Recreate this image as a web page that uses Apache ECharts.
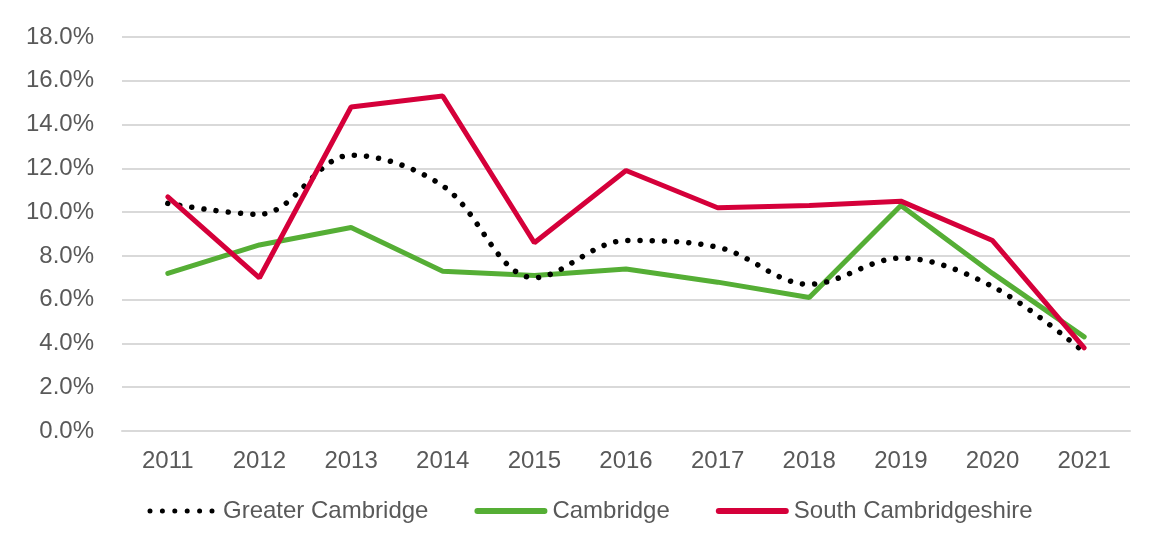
<!DOCTYPE html>
<html>
<head>
<meta charset="utf-8">
<script src="https://cdn.jsdelivr.net/npm/echarts@6/dist/echarts.min.js"></script>
<style>
  html, body { margin: 0; padding: 0; background: #fff; }
  #chart { width: 1159px; height: 544px; }
</style>
</head>
<body>
<div id="chart"></div>
<script>
var years = ["2011", "2012", "2013", "2014", "2015", "2016", "2017", "2018", "2019", "2020", "2021"];
var greaterCambridge = [10.4, 9.9, 12.6, 11.2, 7.0, 8.7, 8.4, 6.7, 7.9, 6.6, 3.6];
var cambridge = [7.2, 8.5, 9.3, 7.3, 7.1, 7.4, 6.8, 6.1, 10.3, 7.2, 4.3];
var southCambs = [10.7, 7.0, 14.8, 15.3, 8.6, 11.9, 10.2, 10.3, 10.5, 8.7, 3.8];

var textColor = "#595959";
var font = "'Liberation Sans', Arial, sans-serif";

// legend icons, 73 x 6 box
var barIcon = "path://M3,0 L70,0 A3,3 0 0 1 70,6 L3,6 A3,3 0 0 1 3,0 Z";
var dotIcon = "path://M0,0 M73,6";
for (var i = 0; i < 6; i++) {
  var cx = 5 + i * 12.4;
  dotIcon += " M" + (cx - 2.5) + ",3 A2.5,2.5 0 1 0 " + (cx + 2.5) + ",3 A2.5,2.5 0 1 0 " + (cx - 2.5) + ",3 Z";
}

var myChart = echarts.init(document.getElementById("chart"));

myChart.setOption({
  animation: false,
  grid: {
    left: 122,
    right: 29,
    top: 37,
    bottom: 113,
  },
  legend: {
    left: 140,
    top: 494,
    itemWidth: 73,
    itemHeight: 6,
    itemGap: 46,
    textStyle: {
      color: textColor,
      fontSize: 24,
      fontFamily: font,
    },
    data: [
      { name: "Greater Cambridge", icon: dotIcon, itemStyle: { color: "#000" } },
      { name: "Cambridge", icon: barIcon, itemStyle: { color: "#55ae35" } },
      { name: "South Cambridgeshire", icon: barIcon, itemStyle: { color: "#d5003a" } },
    ],
  },
  xAxis: {
    type: "category",
    boundaryGap: true,
    data: years,
    axisLine: { lineStyle: { color: "#d9d9d9", width: 2 } },
    axisTick: { show: false },
    axisLabel: {
      color: textColor,
      fontSize: 24,
      fontFamily: font,
      margin: 18,
    },
  },
  yAxis: {
    type: "value",
    min: 0,
    max: 18,
    interval: 2,
    axisLine: { show: false },
    axisTick: { show: false },
    splitLine: { lineStyle: { color: "#d9d9d9", width: 2 } },
    axisLabel: {
      color: textColor,
      fontSize: 24,
      fontFamily: font,
      margin: 28,
      formatter: function (v) {
        return v.toFixed(1) + "%";
      },
    },
  },
  series: [
    {
      name: "Greater Cambridge",
      type: "line",
      data: greaterCambridge,
      smooth: 0.35,
      symbol: "none",
      z: 3,
      itemStyle: { color: "#000" },
      lineStyle: {
        color: "#000",
        width: 5.5,
        type: [0.01, 12.2],
        cap: "round",
      },
    },
    {
      name: "Cambridge",
      type: "line",
      data: cambridge,
      symbol: "none",
      z: 2,
      itemStyle: { color: "#55ae35" },
      lineStyle: { color: "#55ae35", width: 5, cap: "round" },
    },
    {
      name: "South Cambridgeshire",
      type: "line",
      data: southCambs,
      symbol: "none",
      z: 4,
      itemStyle: { color: "#d5003a" },
      lineStyle: { color: "#d5003a", width: 5, cap: "round" },
    },
  ],
});

window.addEventListener("resize", function () {
  myChart.resize();
});
</script>
</body>
</html>
